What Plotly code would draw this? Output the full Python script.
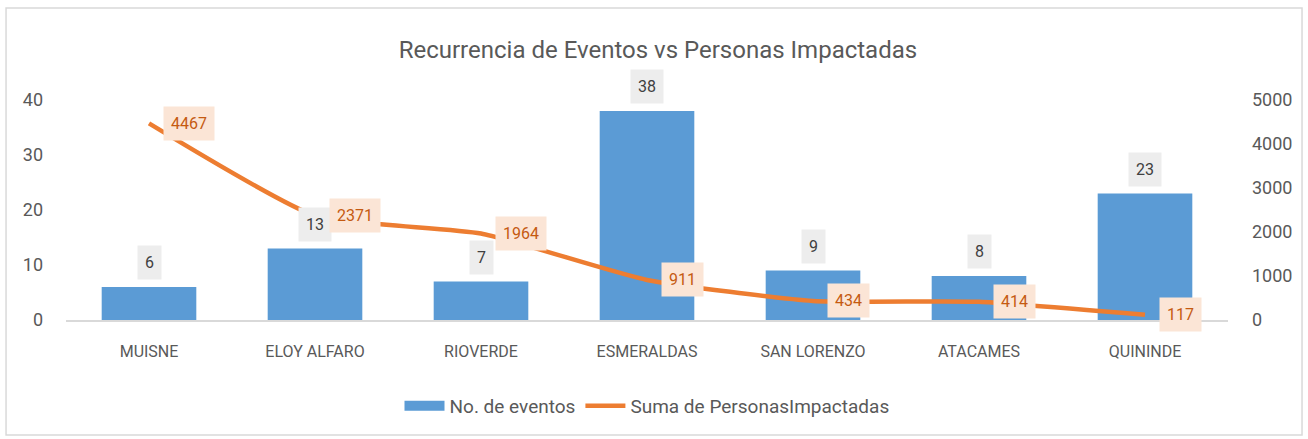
import plotly.graph_objects as go

categories = ["MUISNE", "ELOY ALFARO", "RIOVERDE", "ESMERALDAS", "SAN LORENZO", "ATACAMES", "QUININDE"]
eventos = [6, 13, 7, 38, 9, 8, 23]
personas = [4467, 2371, 1964, 911, 434, 414, 117]
left_ticks = [0, 10, 20, 30, 40]
right_ticks = [0, 1000, 2000, 3000, 4000, 5000]

FONT = "Roboto"
GRAY = "#595959"
BLUE = "#5b9bd5"
ORANGE = "#ed7d31"

fig = go.Figure()
fig.add_trace(go.Bar(x=categories, y=eventos, name="No. de eventos", showlegend=False,
                     marker=dict(color=BLUE, line=dict(width=0)), yaxis="y"))
# legend entry for the bars (wide rectangle swatch)
fig.add_trace(go.Scatter(x=[None], y=[None], name="No. de eventos", mode="lines",
                         line=dict(color=BLUE, width=13), yaxis="y", hoverinfo="skip"))
fig.add_trace(go.Scatter(x=categories, y=personas, name="Suma de PersonasImpactadas",
                         mode="lines", line=dict(color=ORANGE, width=4.5, shape="spline", smoothing=0.5),
                         yaxis="y2"))

annotations = []
for c, v in zip(categories, eventos):
    annotations.append(dict(x=c, y=v, xref="x", yref="y", text=str(v), showarrow=False,
                            yanchor="bottom", yshift=7, bgcolor="#ededed", borderpad=7,
                            font=dict(family=FONT, size=16, color="#404040")))
for c, v in zip(categories, personas):
    annotations.append(dict(x=c, y=v, xref="x", yref="y2", text=str(v), showarrow=False,
                            xanchor="left", yanchor="middle", xshift=14, bgcolor="#fbe5d6", borderpad=7,
                            font=dict(family=FONT, size=16, color="#c55a11")))

fig.update_layout(
    width=1308, height=439,
    margin=dict(l=66, r=80, t=100, b=119),
    paper_bgcolor="white", plot_bgcolor="white",
    font=dict(family=FONT, color=GRAY, size=16),
    title=dict(text="Recurrencia de Eventos vs Personas Impactadas", x=0.503, xanchor="center",
               y=1 - 50 / 439, yanchor="middle", font=dict(family=FONT, size=24, color=GRAY)),
    bargap=0.43,
    showlegend=True,
    legend=dict(orientation="h", x=0.5, xanchor="center", y=-0.39, yanchor="middle",
                font=dict(family=FONT, size=19, color=GRAY), itemwidth=40),
    xaxis=dict(showgrid=False, showline=True, linecolor="#d9d9d9", linewidth=1.5, ticks="",
               tickfont=dict(family=FONT, size=16, color=GRAY), ticklabelstandoff=16),
    yaxis=dict(range=[0, 40], tickvals=left_ticks, showgrid=False, zeroline=False, showline=False,
               tickfont=dict(family=FONT, size=18, color=GRAY), ticklabelstandoff=22),
    yaxis2=dict(range=[0, 5000], tickvals=right_ticks, overlaying="y", side="right", showgrid=False,
                zeroline=False, showline=False, tickfont=dict(family=FONT, size=18, color=GRAY),
                ticklabelstandoff=23),
    annotations=annotations,
    shapes=[dict(type="rect", xref="paper", yref="paper", x0=-0.0516, x1=1.0637, y0=-0.523, y1=1.418,
                 line=dict(color="#d9d9d9", width=1.5), fillcolor="rgba(0,0,0,0)", layer="below")],
)
fig.write_html("out.html", config={"displayModeBar": False},
               post_script="document.body.style.margin='0';")
